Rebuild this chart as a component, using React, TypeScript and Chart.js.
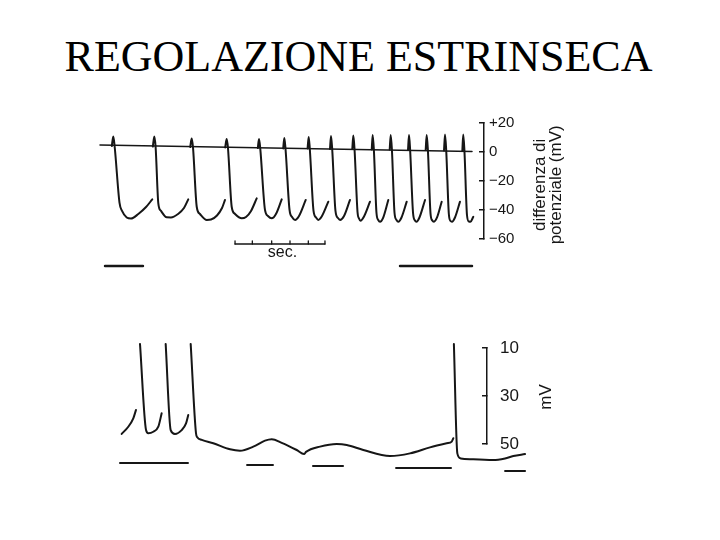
import React, { useEffect, useRef } from "react";
import { Chart, registerables } from "chart.js";

Chart.register(...registerables);

const TITLE = "REGOLAZIONE ESTRINSECA";
const FONT = '"Liberation Sans", Arial, Helvetica, sans-serif';
const INK = "#161616";

// ---------- upper recording: time (s) / membrane potential (mV), one array per beat ----------
const topCycleTimes: number[][] = [
  [0.127, 0.143, 0.157, 0.21, 0.237, 0.287, 0.333, 0.412, 0.495, 0.562],
  [0.568, 0.584, 0.598, 0.627, 0.656, 0.717, 0.763, 0.839, 0.903, 0.949],
  [0.97, 0.986, 1.0, 1.04, 1.075, 1.148, 1.194, 1.258, 1.312, 1.344],
  [1.346, 1.362, 1.376, 1.416, 1.452, 1.524, 1.57, 1.624, 1.685],
  [1.697, 1.71, 1.723, 1.774, 1.806, 1.846, 1.892, 1.954],
  [1.97, 1.982, 1.995, 2.038, 2.065, 2.097, 2.14, 2.212],
  [2.232, 2.244, 2.256, 2.296, 2.323, 2.347, 2.387, 2.455],
  [2.473, 2.484, 2.497, 2.532, 2.559, 2.581, 2.624, 2.688],
  [2.713, 2.724, 2.737, 2.769, 2.785, 2.801, 2.839, 2.903],
  [2.922, 2.932, 2.945, 2.973, 2.992, 3.011, 3.043, 3.1],
  [3.115, 3.126, 3.139, 3.167, 3.188, 3.208, 3.242, 3.298],
  [3.312, 3.323, 3.335, 3.366, 3.387, 3.403, 3.435, 3.495],
  [3.502, 3.513, 3.526, 3.554, 3.573, 3.591, 3.624, 3.674],
  [3.699, 3.71, 3.723, 3.751, 3.769, 3.785, 3.817, 3.871],
  [3.896, 3.906, 3.919, 3.946, 3.966, 3.984, 4.014],
];
const topCycleMv: number[][] = [
  [3.8, 10.3, 3.8, -35.5, -41.0, -45.5, -46.2, -43.1, -38.3, -33.0],
  [3.4, 10.3, 3.1, -35.7, -41.0, -45.4, -45.5, -43.1, -39.0, -33.0],
  [3.1, 9.0, 2.8, -38.1, -43.1, -47.2, -46.9, -44.1, -39.0, -33.4],
  [2.8, 8.6, 2.4, -38.1, -43.1, -46.1, -45.2, -41.0, -32.3],
  [2.4, 8.6, 2.1, -40.3, -44.5, -46.1, -43.1, -33.0],
  [2.1, 9.3, 1.7, -40.3, -45.2, -47.2, -44.5, -33.4],
  [2.1, 10.0, 1.7, -41.0, -45.5, -47.2, -44.5, -34.6],
  [1.7, 10.7, 1.4, -41.0, -45.9, -47.2, -44.5, -33.4],
  [1.7, 11.0, 1.4, -41.7, -46.2, -47.7, -44.8, -34.6],
  [1.4, 11.4, 1.0, -42.4, -47.2, -48.4, -45.9, -33.4],
  [1.4, 11.4, 1.0, -42.4, -47.2, -48.4, -45.5, -34.6],
  [1.0, 11.4, 0.7, -42.4, -47.6, -48.4, -45.5, -33.4],
  [1.0, 11.4, 0.7, -42.8, -47.6, -48.4, -45.5, -34.6],
  [0.7, 11.7, 0.3, -43.1, -47.9, -48.4, -45.5, -34.6],
  [0.3, 11.7, 0.0, -43.8, -48.3, -48.4, -45.0],
];
const topBaselineTimes = [0, 4.0];
const topBaselineMv = [4.5, 0];
const topStimStart = [0.054, 3.226];
const topStimEnd = [0.462, 4.0];
const topStimMv = -79;
const secBarStart = 1.452;
const secBarEnd = 2.419;
const secBarMv = -63.8;
const secTickTimes = [1.452, 1.638, 1.846, 2.043, 2.24, 2.419];
const secTickTopMv = -61.6;
const topTickValues = [20, 0, -20, -40, -60];
const topTickLabels = ["+20", "0", "\u221220", "\u221240", "\u221260"];

// ---------- lower recording: time (s) / potential (mV, plotted downward) ----------
const bottomSegTimes: number[][] = [
  [0.233, 0.304, 0.358, 0.387],
  [0.43, 0.495, 0.519, 0.573, 0.627, 0.663],
  [0.706, 0.76, 0.806, 0.878, 0.925, 0.949],
  [0.975, 1.032, 1.046, 1.094, 1.218, 1.398, 1.505, 1.648, 1.774, 1.846, 1.954, 2.115, 2.194, 2.215, 2.366, 2.545, 2.653, 2.831, 3.118, 3.333, 3.548, 3.728, 3.782, 3.799],
  [3.805, 3.842, 3.878, 4.013, 4.229, 4.355, 4.444, 4.57],
];
const bottomSegMv: number[][] = [
  [45.8, 42.8, 39.3, 35.8],
  [8.3, 44.2, 45.5, 44.9, 42.8, 37.2],
  [8.3, 44.2, 45.8, 44.2, 41.4, 37.9],
  [8.3, 45.5, 47.2, 48.3, 49.7, 52.2, 52.8, 51.1, 48.6, 48.0, 49.5, 52.5, 54.2, 53.3, 51.1, 50.0, 50.4, 52.5, 55.0, 53.9, 51.4, 49.7, 49.0, 47.6],
  [8.3, 53.9, 56.0, 56.4, 56.7, 56.0, 55.0, 54.2],
];
const bottomStimStart = [0.215, 1.581, 2.29, 3.183, 4.355];
const bottomStimEnd = [0.946, 1.86, 2.613, 3.774, 4.57];
const bottomStimMv = [57.9, 58.75, 59.2, 60.0, 61.25];
const bottomTickValues = [10, 30, 50];
const bottomTickLabels = ["10", "30", "50"];

type Pt = { x: number | null; y: number | null };

function segmentsToData(times: number[][], values: number[][]): Pt[] {
  const out: Pt[] = [];
  times.forEach((ts, i) => {
    ts.forEach((t, j) => out.push({ x: t, y: values[i][j] }));
    out.push({ x: null, y: null });
  });
  return out;
}

function lineSet(data: Pt[], width: number, smooth: boolean) {
  return {
    data,
    borderColor: INK,
    borderWidth: width,
    pointRadius: 0,
    pointHoverRadius: 0,
    fill: false,
    spanGaps: false,
    clip: false as const,
    tension: smooth ? 0.4 : 0,
    cubicInterpolationMode: smooth ? ("monotone" as const) : ("default" as const),
    borderCapStyle: "round" as const,
    borderJoinStyle: "round" as const,
  };
}

function rightAxis(min: number, max: number, reverse: boolean, values: number[], labels: string[], size: number, padding: number) {
  return {
    type: "linear" as const,
    position: "right" as const,
    min,
    max,
    reverse,
    afterBuildTicks: (axis: any) => {
      axis.ticks = values.map((v) => ({ value: v }));
    },
    afterFit: (axis: any) => {
      axis.width = 60;
    },
    ticks: {
      autoSkip: false,
      padding,
      color: INK,
      font: { family: FONT, size },
      callback: (v: any) => {
        const i = values.indexOf(Number(v));
        return i >= 0 ? labels[i] : "";
      },
    },
    grid: { drawOnChartArea: false, drawTicks: true, tickLength: -5, color: INK, lineWidth: 1.5 },
    border: { display: true, color: INK, width: 1.5 },
  };
}

type TextItem = { text: string; xVal?: number; xOff?: number; yVal: number; size: number; rotate: boolean };

function textPlugin(id: string, items: TextItem[]) {
  return {
    id,
    afterDraw(chart: any) {
      const ctx = chart.ctx as CanvasRenderingContext2D;
      const xs = chart.scales.x;
      const ys = chart.scales.y;
      items.forEach((it) => {
        const x = it.xVal !== undefined ? xs.getPixelForValue(it.xVal) : chart.chartArea.right + (it.xOff || 0);
        const y = ys.getPixelForValue(it.yVal);
        ctx.save();
        ctx.translate(x, y);
        if (it.rotate) ctx.rotate(-Math.PI / 2);
        ctx.font = `${it.size}px ${FONT}`;
        ctx.fillStyle = INK;
        ctx.textAlign = "center";
        ctx.textBaseline = "middle";
        ctx.fillText(it.text, 0, 0);
        ctx.restore();
      });
    },
  };
}

export default function App() {
  const topRef = useRef<HTMLCanvasElement>(null);
  const bottomRef = useRef<HTMLCanvasElement>(null);

  useEffect(() => {
    const topData = segmentsToData(topCycleTimes, topCycleMv);
    const baseline = segmentsToData([topBaselineTimes], [topBaselineMv]);
    const topStim = segmentsToData(
      topStimStart.map((s, i) => [s, topStimEnd[i]]),
      topStimStart.map(() => [topStimMv, topStimMv])
    );
    const secBar = segmentsToData([[secBarStart, secBarEnd]], [[secBarMv, secBarMv]]);
    const secTicks = segmentsToData(
      secTickTimes.map((t) => [t, t]),
      secTickTimes.map(() => [secBarMv, secTickTopMv])
    );

    const top = new Chart(topRef.current!, {
      type: "line",
      data: {
        datasets: [
          lineSet(baseline, 1.5, false),
          lineSet(topData, 2, true),
          lineSet(topStim, 2.5, false),
          lineSet(secBar, 1.3, false),
          lineSet(secTicks, 1.3, false),
        ] as any,
      },
      options: {
        responsive: false,
        animation: false,
        layout: { padding: { left: 100, top: 122.5, right: 176, bottom: 301.5 } },
        plugins: { legend: { display: false }, tooltip: { enabled: false }, title: { display: false } },
        events: [],
        scales: {
          x: { type: "linear", min: 0, max: 4.129, display: false },
          y: rightAxis(-60, 20, false, topTickValues, topTickLabels, 15, 10) as any,
        },
      },
      plugins: [
        textPlugin("topText", [
          { text: "differenza di", xOff: 56, yVal: -23, size: 17, rotate: true },
          { text: "potenziale (mV)", xOff: 72, yVal: -23, size: 17, rotate: true },
          { text: "sec.", xVal: 1.962, yVal: -70, size: 16, rotate: false },
        ]),
      ],
    });

    const bottomData = segmentsToData(bottomSegTimes, bottomSegMv);
    const bottomStim = segmentsToData(
      bottomStimStart.map((s, i) => [s, bottomStimEnd[i]]),
      bottomStimMv.map((m) => [m, m])
    );

    const bottom = new Chart(bottomRef.current!, {
      type: "line",
      data: {
        datasets: [lineSet(bottomData, 2, true), lineSet(bottomStim, 2, false)] as any,
      },
      options: {
        responsive: false,
        animation: false,
        layout: { padding: { left: 100, top: 348, right: 173, bottom: 96 } },
        plugins: { legend: { display: false }, tooltip: { enabled: false }, title: { display: false } },
        events: [],
        scales: {
          x: { type: "linear", min: 0, max: 4.161, display: false },
          y: rightAxis(10, 50, true, bottomTickValues, bottomTickLabels, 17, 18) as any,
        },
      },
      plugins: [textPlugin("bottomText", [{ text: "mV", xOff: 59, yVal: 30.4, size: 17, rotate: true }])],
    });

    return () => {
      top.destroy();
      bottom.destroy();
    };
  }, []);

  return (
    <div style={{ position: "absolute", left: 0, top: 0, width: 720, height: 540, background: "#fff", overflow: "hidden" }}>
      <div
        style={{
          position: "absolute",
          left: 0,
          top: 35,
          width: 717,
          textAlign: "center",
          font: '44px/44px "Liberation Serif", "Times New Roman", serif',
          color: "#000",
          whiteSpace: "nowrap",
        }}
      >
        {TITLE}
      </div>
      <canvas ref={topRef} width={720} height={540} style={{ position: "absolute", left: 0, top: 0 }} />
      <canvas ref={bottomRef} width={720} height={540} style={{ position: "absolute", left: 0, top: 0 }} />
    </div>
  );
}
